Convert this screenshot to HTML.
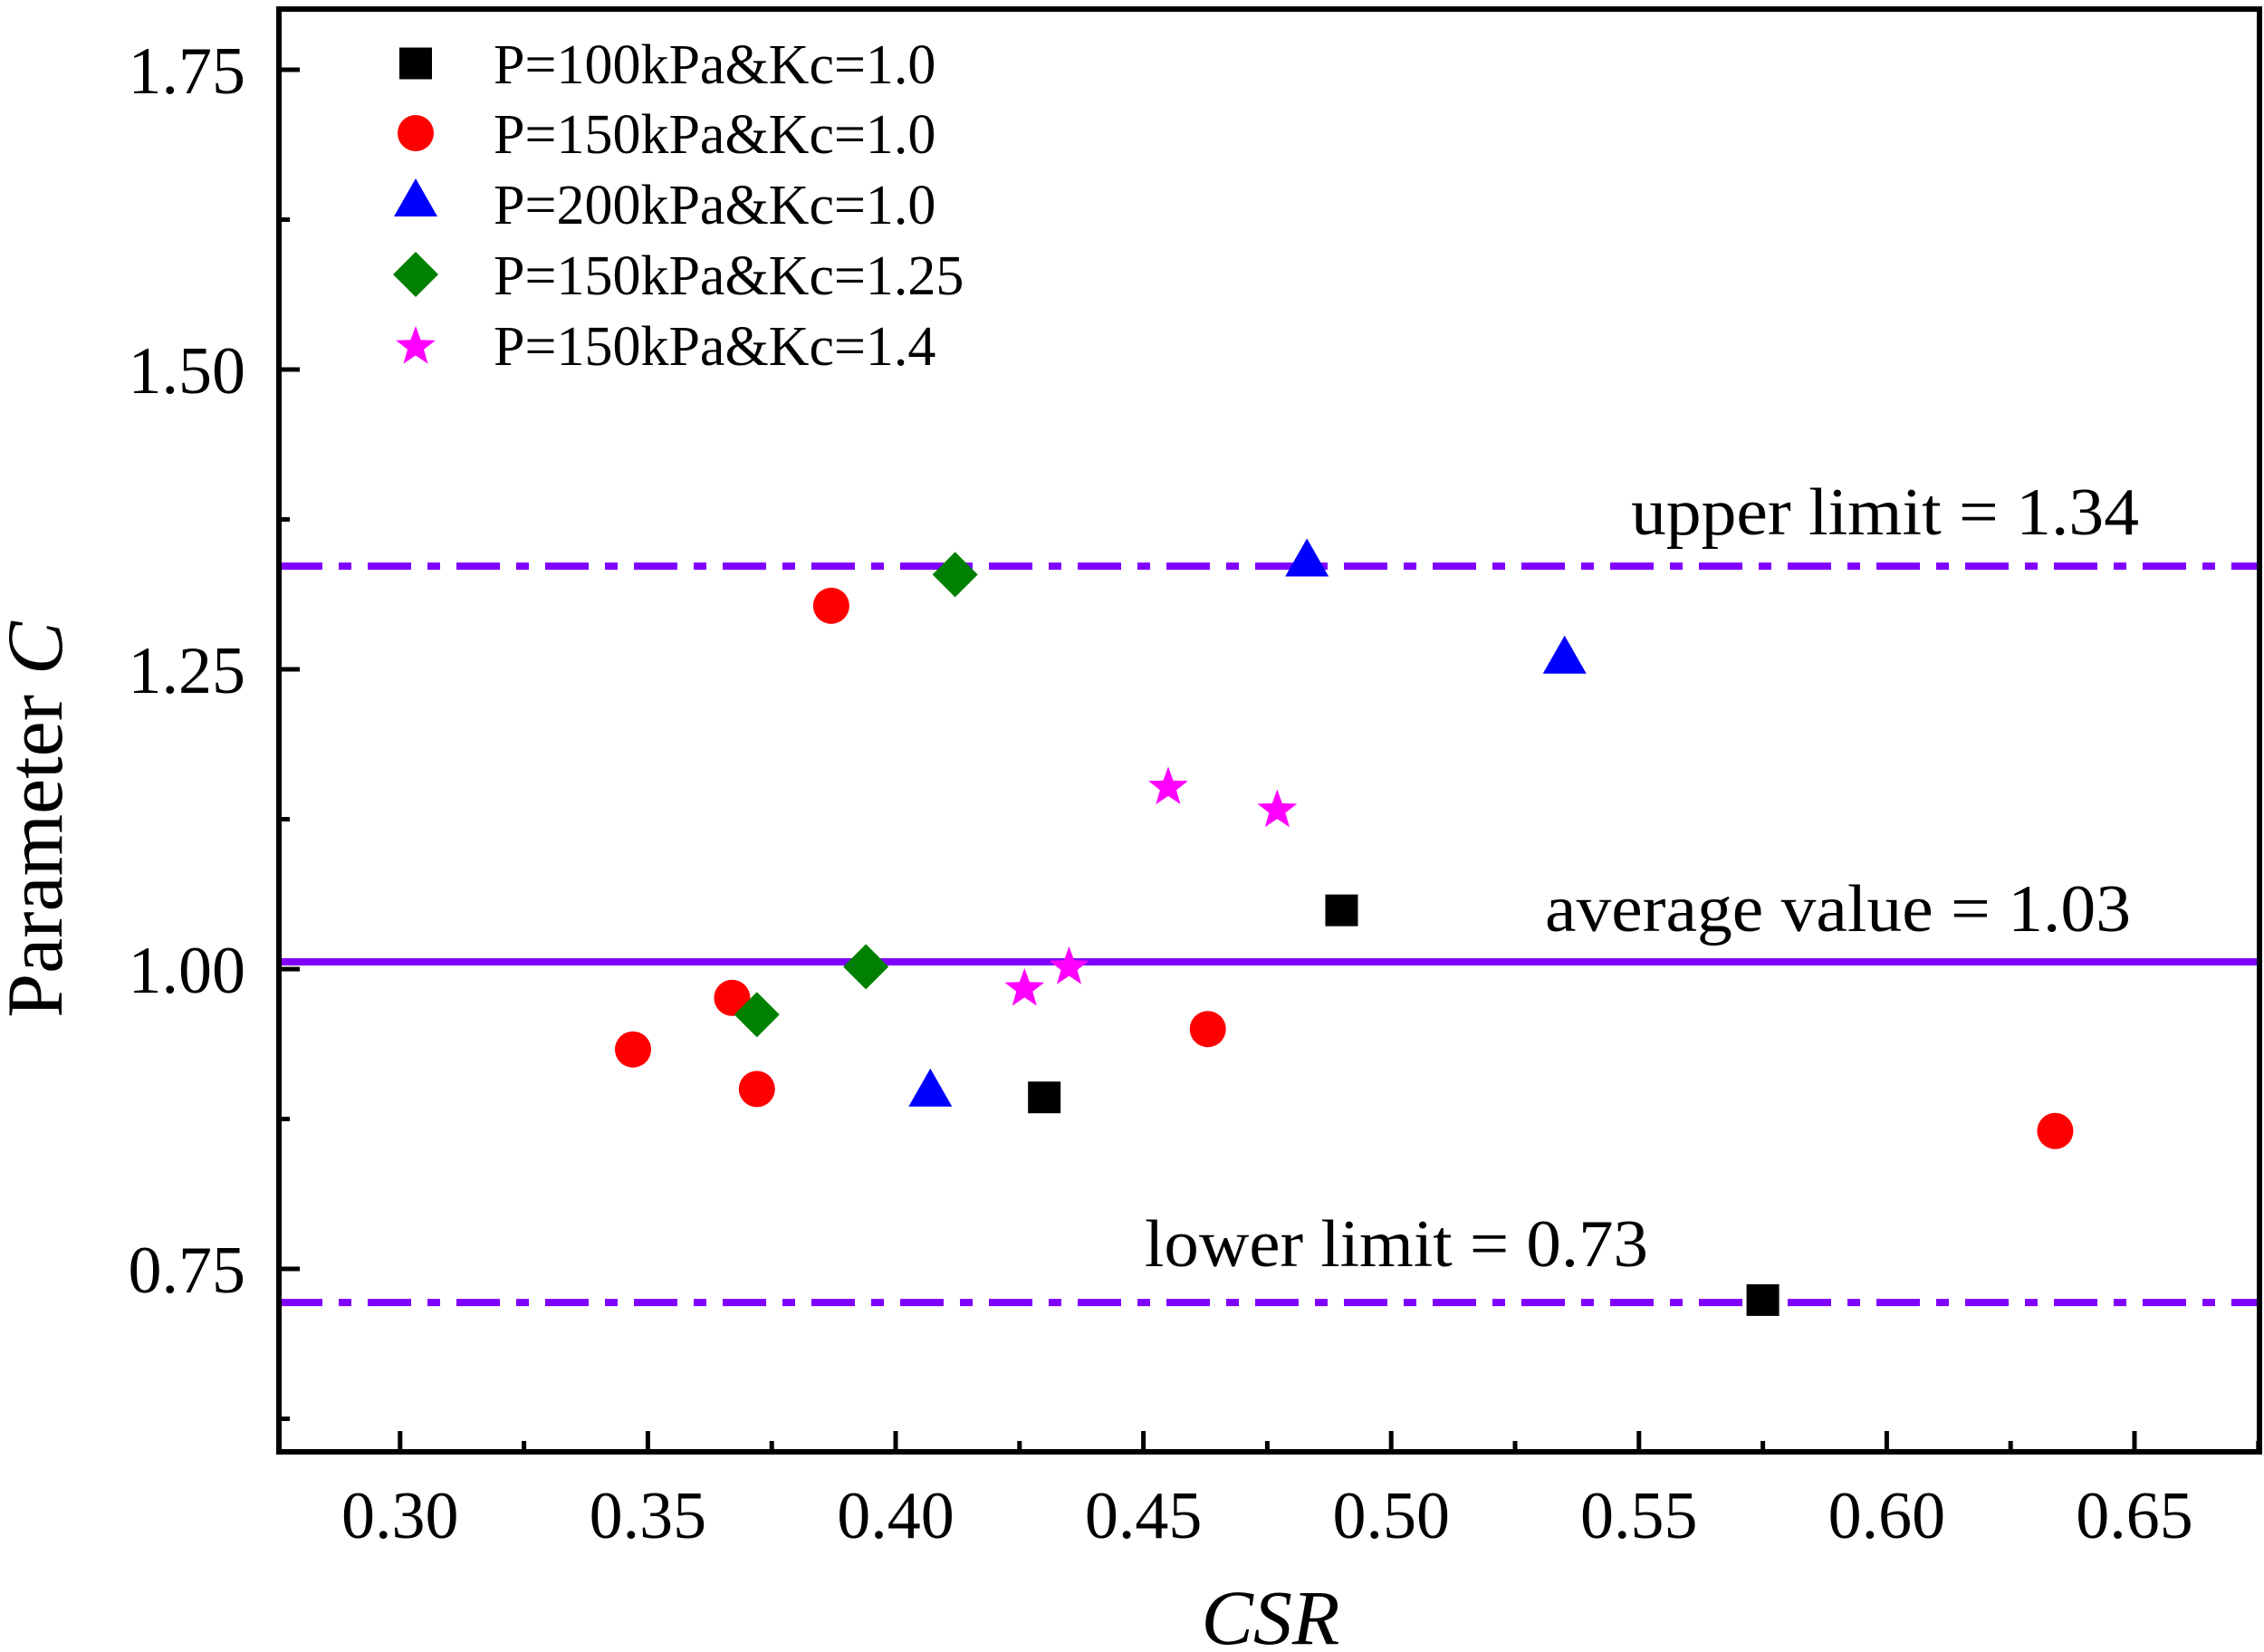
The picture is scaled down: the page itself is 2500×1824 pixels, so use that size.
<!DOCTYPE html>
<html><head><meta charset="utf-8"><style>
html,body{margin:0;padding:0;background:#fff;}
svg{display:block;font-family:"Liberation Serif",serif;}
</style></head><body>
<svg id="chart" width="2500" height="1824" viewBox="0 0 2500 1824" xmlns="http://www.w3.org/2000/svg"></svg>
<script>
const xTicks=[0.30,0.35,0.40,0.45,0.50,0.55,0.60,0.65];
const xTickLabels=["0.30","0.35","0.40","0.45","0.50","0.55","0.60","0.65"];
const yTicks=[0.75,1.00,1.25,1.50,1.75];
const yTickLabels=["0.75","1.00","1.25","1.50","1.75"];
const seriesNames=["P=100kPa&Kc=1.0","P=150kPa&Kc=1.0","P=200kPa&Kc=1.0","P=150kPa&Kc=1.25","P=150kPa&Kc=1.4"];
const s1x=[0.490,0.430,0.575];
const s1y=[1.049,0.893,0.724];
const s2x=[0.387,0.367,0.347,0.372,0.463,0.634];
const s2y=[1.303,0.976,0.933,0.900,0.950,0.865];
const s3x=[0.483,0.535,0.407];
const s3y=[1.338,1.257,0.896];
const s4x=[0.412,0.394,0.372];
const s4y=[1.329,1.002,0.962];
const s5x=[0.455,0.477,0.426,0.435];
const s5y=[1.153,1.134,0.985,1.003];
const limitValues=[1.336,1.006,0.722];
const limitLabels=["upper limit = 1.34","average value = 1.03","lower limit = 0.73"];

const L=308,R=2495,T=10,B=1603;
const X=v=>2357+(v-0.65)/0.05*273.6;
const Y=v=>1401-(v-0.75)/0.25*331;
const svg=document.getElementById('chart');
const NS="http://www.w3.org/2000/svg";
function mk(tag,attrs,parent){const e=document.createElementNS(NS,tag);for(const k in attrs)e.setAttribute(k,attrs[k]);(parent||svg).appendChild(e);return e;}

limitValues.forEach((v,i)=>{
  const ln=mk('line',{x1:L,x2:R,y1:Y(v),y2:Y(v),stroke:'#7f00ff','stroke-width':8});
  if(i!==1) ln.setAttribute('stroke-dasharray','48 18 14 18');
  
  
});
const labelPos=[[1801,590,561],[1706,1028,647],[1264,1398,556]];
limitLabels.forEach((t,i)=>{
  const tx=mk('text',{x:labelPos[i][0],y:labelPos[i][1],'font-size':74,fill:'#000',textLength:labelPos[i][2],lengthAdjust:'spacingAndGlyphs'});
  tx.textContent=t;
  
  
});

function marker(type,cx,cy,g){
  let e;
  if(type===0) e=mk('rect',{x:cx-18,y:cy-17.5,width:36,height:35,fill:'#000'},g);
  else if(type===1) e=mk('ellipse',{cx:cx,cy:cy,rx:20,ry:20,fill:'#ff0000'},g);
  else if(type===2) e=mk('polygon',{points:`${cx},${cy-28} ${cx+24},${cy+14} ${cx-24},${cy+14}`,fill:'#0000ff'},g);
  else if(type===3) e=mk('polygon',{points:`${cx},${cy-25} ${cx+25},${cy} ${cx},${cy+25} ${cx-25},${cy}`,fill:'#008000'},g);
  else {
    let p=[];for(let k=0;k<10;k++){const r=k%2?9.5:23;const a=-Math.PI/2+k*Math.PI/5;p.push((cx+r*Math.cos(a)).toFixed(1)+','+(cy+2+r*Math.sin(a)).toFixed(1));}
    e=mk('polygon',{points:p.join(' '),fill:'#ff00ff'},g);
  }
  return e;
}
const allX=[s1x,s2x,s3x,s4x,s5x],allY=[s1y,s2y,s3y,s4y,s5y];
const snames=['series-p100-kc1','series-p150-kc1','series-p200-kc1','series-p150-kc125','series-p150-kc14'];
allX.forEach((xs,si)=>{
  const g=mk('g',{});
  
  
  xs.forEach((xv,j)=>{
    const m=marker(si,X(xv),Y(allY[si][j]),g);
    
    
  });
});

const fr=mk('rect',{x:L,y:T,width:R-L,height:B-T,fill:'none',stroke:'#000','stroke-width':6});



xTicks.forEach((v,i)=>{
  mk('line',{x1:X(v),x2:X(v),y1:B,y2:B-23,stroke:'#000','stroke-width':5});
  const mx=X(v+0.025);
  if(mx<R) mk('line',{x1:mx,x2:mx,y1:B,y2:B-12,stroke:'#000','stroke-width':5});
  const tx=mk('text',{x:X(v),y:1698,'font-size':74,'text-anchor':'middle'});
  tx.textContent=xTickLabels[i];
  
  
});
{const mx=X(0.275); if(mx>L) mk('line',{x1:mx,x2:mx,y1:B,y2:B-12,stroke:'#000','stroke-width':5});}
yTicks.forEach((v,i)=>{
  mk('line',{x1:L,x2:L+23,y1:Y(v),y2:Y(v),stroke:'#000','stroke-width':5});
  const my=Y(v-0.125);
  mk('line',{x1:L,x2:L+12,y1:my,y2:my,stroke:'#000','stroke-width':5});
  const tx=mk('text',{x:271,y:Y(v)+26,'font-size':74,'text-anchor':'end'});
  tx.textContent=yTickLabels[i];
  
  
});

const xt=mk('text',{x:1403,y:1815,'font-size':86,'font-style':'italic','text-anchor':'middle'});
xt.textContent='CSR';


const yt=mk('text',{x:0,y:0,'font-size':88,'text-anchor':'middle',transform:'translate(68,905) rotate(-90)'});
yt.innerHTML='Parameter <tspan font-style="italic">C</tspan>';



const lg=mk('g',{});


const rows=[70,147,225,303,381];
seriesNames.forEach((n,i)=>{
  const m=marker(i,459,rows[i],lg);
  
  
  const tx=mk('text',{x:545,y:rows[i]+22,'font-size':62},lg);
  tx.textContent=n;
  
  
});
</script>
</body></html>
